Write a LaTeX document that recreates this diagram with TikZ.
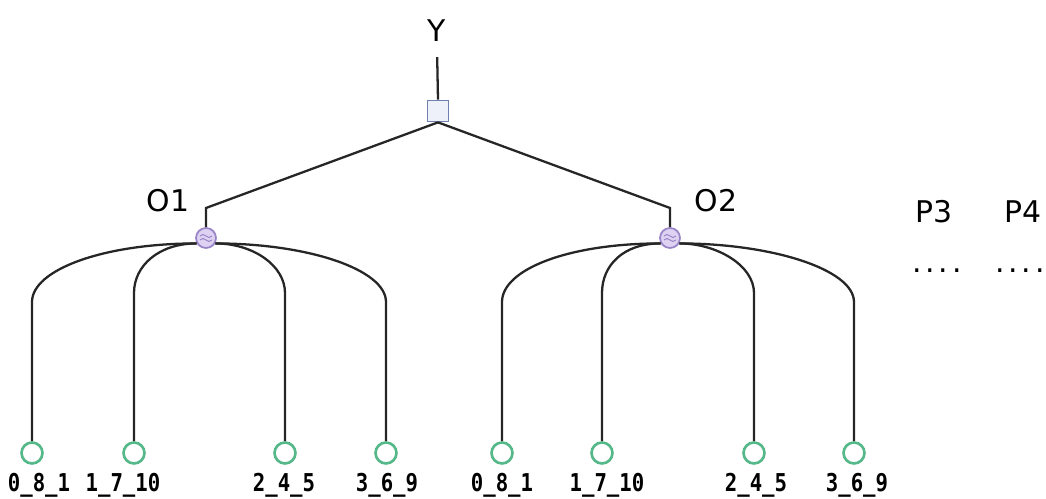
\documentclass[tikz,border=0pt]{standalone}
\usepackage{fontspec}
\setmainfont{DejaVu Sans}
\setmonofont{DejaVu Sans Mono}
\newfontfamily\leaffont{DejaVu Sans Mono Bold}[FakeStretch=0.84]
\usepackage{tikz}
\usetikzlibrary{arrows.meta}

\definecolor{leafgreen}{HTML}{55B888}
\definecolor{orline}{HTML}{9A84C8}
\definecolor{orfill}{HTML}{DDD2F2}
\definecolor{andline}{HTML}{6F7FAF}
\definecolor{andfill}{HTML}{EEF0FA}

\tikzset{
  wire/.style={line width=1.3pt, black!85},
  leaf/.style={circle, draw=leafgreen, fill=white, line width=1.5pt, minimum size=0.42cm, inner sep=0pt},
  ornode/.style={circle, draw=orline, fill=orfill, line width=1pt, minimum size=0.4cm, inner sep=0pt,
    path picture={
      \draw[orline, line width=0.6pt] ([shift={(-0.12cm,0.04cm)}]path picture bounding box.center)
        sin ++(0.06cm,0.03cm) cos ++(0.06cm,-0.03cm) sin ++(0.06cm,-0.03cm) cos ++(0.06cm,0.03cm);
      \draw[orline, line width=0.6pt] ([shift={(-0.12cm,-0.04cm)}]path picture bounding box.center)
        sin ++(0.06cm,0.03cm) cos ++(0.06cm,-0.03cm) sin ++(0.06cm,-0.03cm) cos ++(0.06cm,0.03cm);
    }},
  andnode/.style={rectangle, draw=andline, fill=andfill, line width=1pt, minimum size=0.42cm, inner sep=0pt},
  biglbl/.style={font=\fontsize{17}{20}\selectfont},
  leaflbl/.style={font=\leaffont\fontsize{14}{16}\selectfont, anchor=base},
  outer/.style={out distance=1.85cm, in distance=0.65cm},
  inner/.style={out distance=0.75cm, in distance=0.55cm}
}

\newcommand{\moredots}{.\kern2.2pt.\kern2.2pt.\kern2.2pt.}

\begin{document}
\begin{tikzpicture}[x=0.02cm, y=0.02cm]
    \useasboundingbox (0,0) rectangle (1046,-499);
    % top of the tree
    \node[biglbl] (Y) at (437,-31){Y};
    \node[andnode] (S) at (438,-111){};
    \node[ornode] (O1) at (206,-238){};
    \node[ornode] (O2) at (670,-238){};
    \node[biglbl] (O1t) at (168,-201){O1};
    \node[biglbl] (O2t) at (716,-201){O2};
    \node[biglbl] (P3) at (934,-212){P3};
    \node[biglbl] (P4) at (1023,-212){P4};
    \node[biglbl, anchor=base] (d3) at (937,-273){\moredots};
    \node[biglbl, anchor=base] (d4) at (1020,-273){\moredots};
    % leaves
    \node[leaf] (lA1) at (32,-453){};
    \node[leaf] (lA2) at (134,-453){};
    \node[leaf] (lA3) at (285,-453){};
    \node[leaf] (lA4) at (386,-453){};
    \node[leaf] (lB1) at (502,-453){};
    \node[leaf] (lB2) at (602,-453){};
    \node[leaf] (lB3) at (754,-453){};
    \node[leaf] (lB4) at (854,-453){};
    \node[leaflbl] (tA1) at (39,-492){0\_8\_1};
    \node[leaflbl] (tA2) at (123,-492){1\_7\_10};
    \node[leaflbl] (tA3) at (284,-492){2\_4\_5};
    \node[leaflbl] (tA4) at (387,-492){3\_6\_9};
    \node[leaflbl] (tB1) at (502,-492){0\_8\_1};
    \node[leaflbl] (tB2) at (607,-492){1\_7\_10};
    \node[leaflbl] (tB3) at (756,-492){2\_4\_5};
    \node[leaflbl] (tB4) at (857,-492){3\_6\_9};
    % bends
    \coordinate (kO1) at (206,-208);
    \coordinate (kO2) at (670,-208);
    \coordinate (bA1) at (32,-302);
    \coordinate (bA2) at (134,-293);
    \coordinate (bA3) at (285,-293);
    \coordinate (bA4) at (386,-302);
    \coordinate (bB1) at (502,-302);
    \coordinate (bB2) at (602,-293);
    \coordinate (bB3) at (754,-293);
    \coordinate (bB4) at (854,-302);
    % connectors
    \draw[wire, shorten <=0.18cm] (Y.south)--(S.north);
    \draw[wire] (S.south)--(kO1)--(O1.north);
    \draw[wire] (S.south)--(kO2)--(O2.north);
    \draw[wire] (O1.-150) to[out=180, in=90, outer] (bA1)--(lA1.north);
    \draw[wire] (O1.-150) to[out=180, in=90, inner] (bA2)--(lA2.north);
    \draw[wire] (O1.-30) to[out=0, in=90, inner] (bA3)--(lA3.north);
    \draw[wire] (O1.-30) to[out=0, in=90, outer] (bA4)--(lA4.north);
    \draw[wire] (O2.-150) to[out=180, in=90, outer] (bB1)--(lB1.north);
    \draw[wire] (O2.-150) to[out=180, in=90, inner] (bB2)--(lB2.north);
    \draw[wire] (O2.-30) to[out=0, in=90, inner] (bB3)--(lB3.north);
    \draw[wire] (O2.-30) to[out=0, in=90, outer] (bB4)--(lB4.north);
  \end{tikzpicture}
\end{document}
